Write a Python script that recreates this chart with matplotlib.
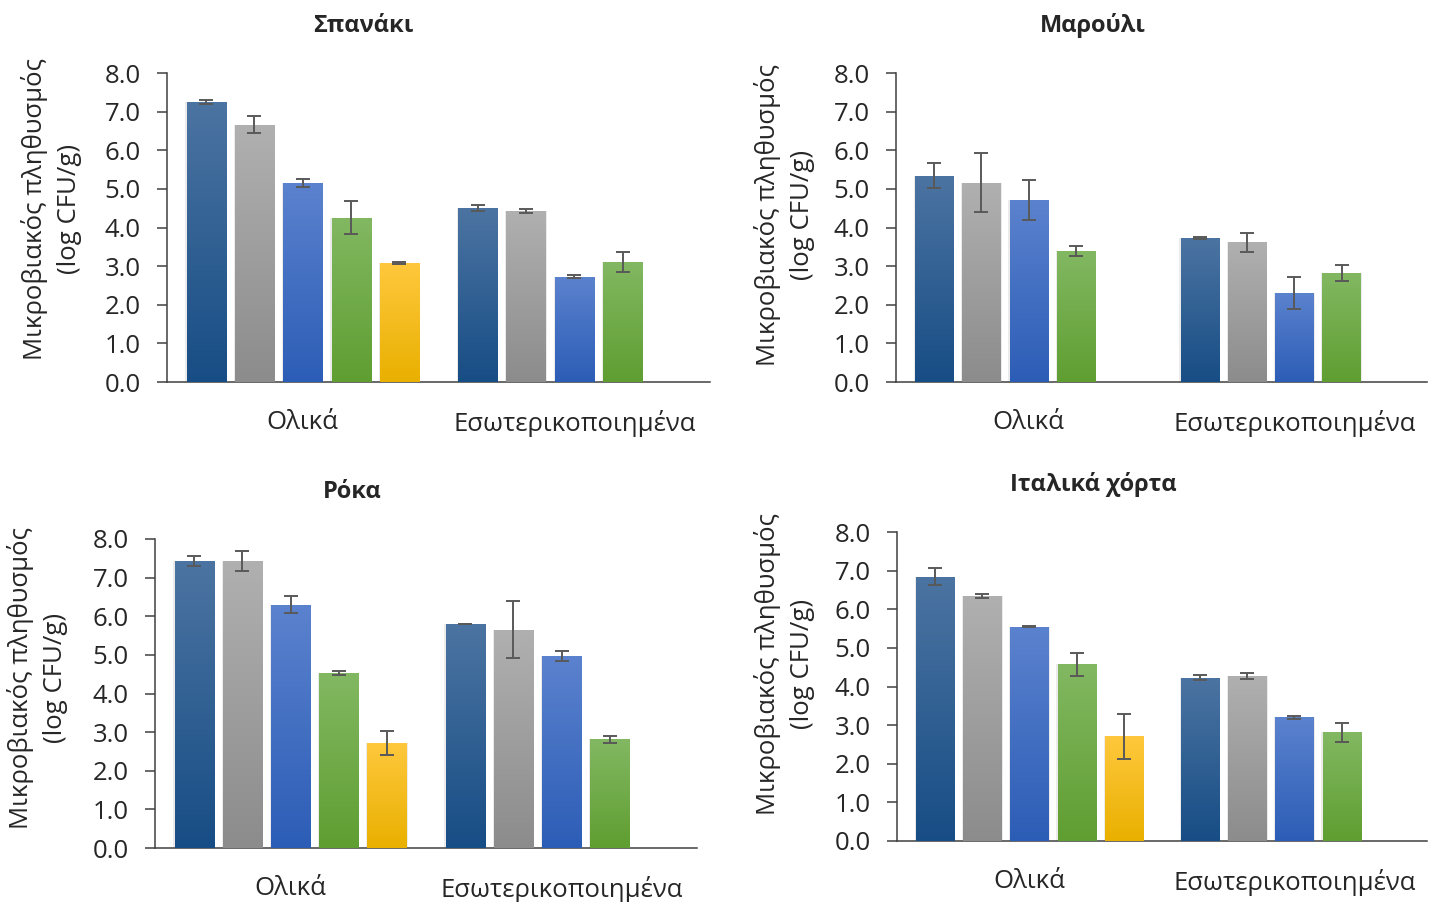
import matplotlib
matplotlib.use("Agg")
import matplotlib.pyplot as plt
import numpy as np
from matplotlib.colors import LinearSegmentedColormap

plt.rcParams['font.family'] = ['Open Sans', 'DejaVu Sans']

categories = ['Ολικά', 'Εσωτερικοποιημένα']
panel_titles = ['Σπανάκι', 'Μαρούλι', 'Ρόκα', 'Ιταλικά χόρτα']
y_label = 'Μικροβιακός πληθυσμός\n(log CFU/g)'
y_ticks = [0, 1, 2, 3, 4, 5, 6, 7, 8]

# values per panel: rows = series (5), cols = categories (Ολικά, Εσωτερικοποιημένα)
spinach_mean = [[7.25, 4.50], [6.66, 4.43], [5.16, 2.72], [4.25, 3.11], [3.08, np.nan]]
spinach_err = [[0.05, 0.07], [0.22, 0.06], [0.10, 0.04], [0.43, 0.25], [0.02, np.nan]]

lettuce_mean = [[5.34, 3.73], [5.16, 3.62], [4.71, 2.30], [3.39, 2.82], [np.nan, np.nan]]
lettuce_err = [[0.33, 0.03], [0.77, 0.25], [0.52, 0.41], [0.14, 0.20], [np.nan, np.nan]]

rocket_mean = [[7.43, 5.80], [7.43, 5.65], [6.30, 4.97], [4.53, 2.82], [2.72, np.nan]]
rocket_err = [[0.13, 0.01], [0.25, 0.74], [0.22, 0.13], [0.05, 0.09], [0.30, np.nan]]

italian_mean = [[6.84, 4.23], [6.35, 4.28], [5.55, 3.20], [4.57, 2.81], [2.71, np.nan]]
italian_err = [[0.22, 0.06], [0.05, 0.08], [0.02, 0.04], [0.30, 0.24], [0.58, np.nan]]

# gradient (top, bottom) per series
series_colors = [('#4C74A2', '#174D85'),
                 ('#B0B0B0', '#8C8C8C'),
                 ('#5B82CE', '#2C5DB6'),
                 ('#82B862', '#5F9E31'),
                 ('#FFC83D', '#E9B000')]

panels = [
    (spinach_mean, spinach_err, [167, 382, 710], (363, 26), (-0.157, 0.56)),
    (lettuce_mean, lettuce_err, [896, 382, 1427], (1093, 26), (-0.153, 0.54)),
    (rocket_mean, rocket_err, [155, 848, 697], (352, 492), (-0.161, 0.55)),
    (italian_mean, italian_err, [897, 841, 1427], (1093, 484), (-0.155, 0.573)),
]

W, H = 1429, 902
fig = plt.figure(figsize=(W / 100, H / 100), dpi=100)

slot = 0.178
bar_w = 0.144
text_col = '#262626'
fs = 18.5

for idx, (means, errs, (left, bottom, right), title_xy, lab_xy) in enumerate(panels):
    ax = fig.add_axes([left / W, 1 - bottom / H, (right - left) / W, 309 / H])
    x = np.arange(len(categories))
    for k, (m, e) in enumerate(zip(means, errs)):
        xs = x + (k - 2) * slot
        top_c, bot_c = series_colors[k]
        cmap = LinearSegmentedColormap.from_list('g%d' % k, [bot_c, top_c])
        bars = ax.bar(xs, m, width=bar_w, color=bot_c, zorder=2, linewidth=0)
        for b in bars:
            h = b.get_height()
            if not np.isfinite(h) or h <= 0:
                continue
            bx = b.get_x()
            # soft shadow
            ax.bar(bx + bar_w / 2, h, width=bar_w * 1.06, color='#c8c8c8',
                   alpha=0.35, zorder=1, linewidth=0)
            img = ax.imshow(np.linspace(0, 1, 256).reshape(-1, 1), cmap=cmap,
                            origin='lower', aspect='auto',
                            extent=(bx, bx + bar_w, 0, h), zorder=3)
            img.set_clip_path(b)
        ax.errorbar(xs, m, yerr=e, fmt='none', ecolor='#595959',
                    elinewidth=1.4, capsize=5, capthick=1.4, zorder=4)

    ax.set_xlim(-0.5, 1.5)
    ax.set_ylim(0, 8)
    ax.set_yticks(y_ticks)
    ax.set_yticklabels(['%.1f' % v for v in y_ticks])
    ax.set_xticks(x)
    ax.set_xticklabels(categories)
    for s in ['top', 'right']:
        ax.spines[s].set_visible(False)
    ax.spines['left'].set_color('#404040')
    ax.spines['bottom'].set_color('#404040')
    ax.spines['left'].set_linewidth(1.1)
    ax.spines['bottom'].set_linewidth(1.1)
    ax.tick_params(axis='y', direction='out', length=7, width=1.1,
                   color='#404040', pad=12, labelsize=fs, labelcolor=text_col)
    ax.tick_params(axis='x', length=0, pad=20, labelsize=fs, labelcolor=text_col)
    ax.set_ylabel(y_label, fontsize=fs, color=text_col, linespacing=1.45)
    ax.yaxis.set_label_coords(*lab_xy)

    fig.text(title_xy[0] / W, 1 - title_xy[1] / H, panel_titles[idx],
             ha='center', va='center', fontsize=17, fontweight='bold',
             color=text_col)

fig.savefig('out.png', dpi=100)
